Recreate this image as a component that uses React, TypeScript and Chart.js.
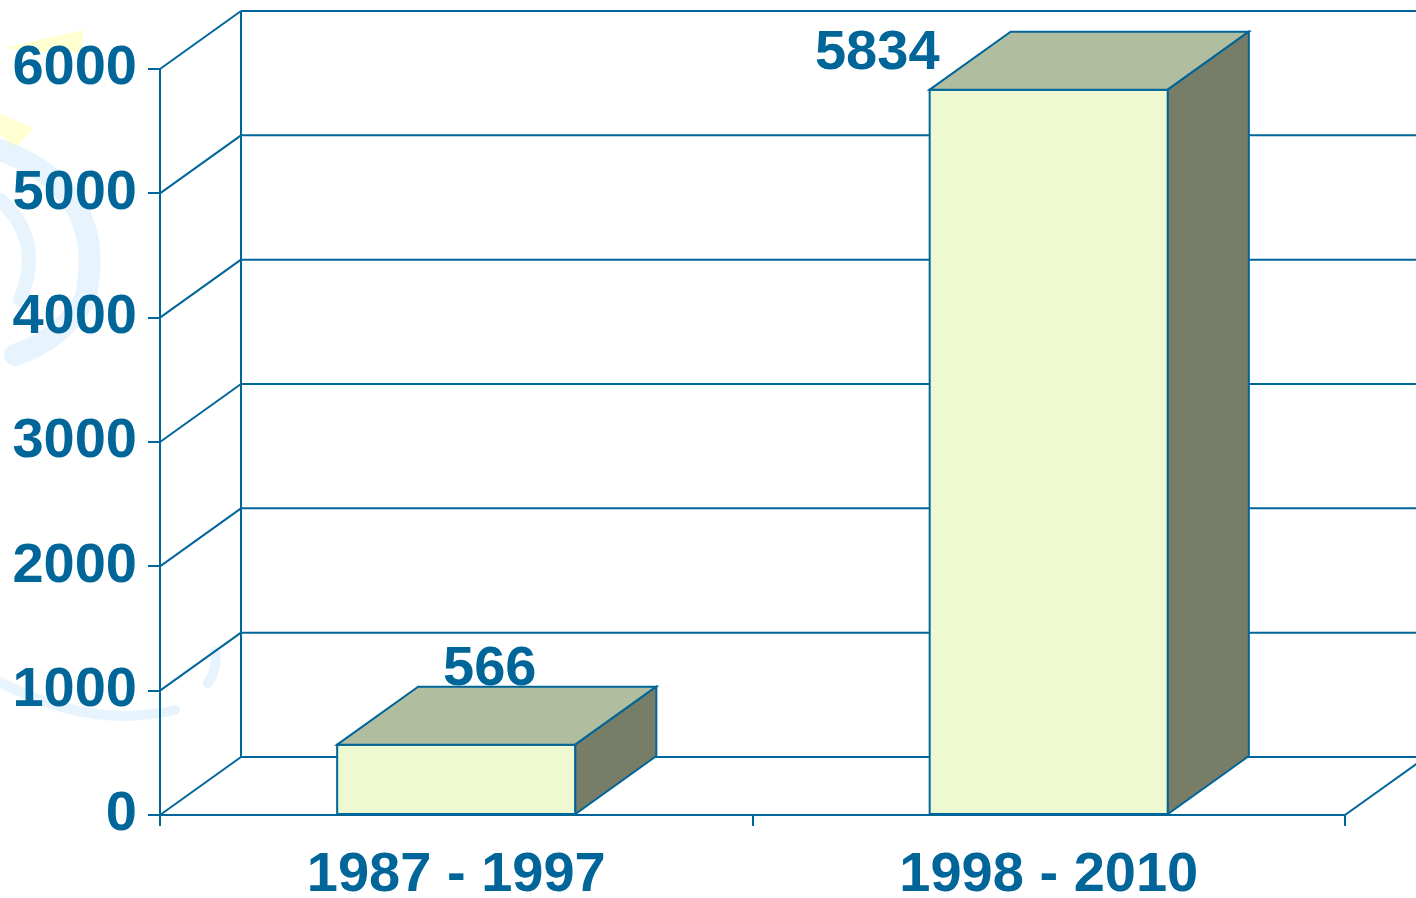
import { useEffect, useRef } from "react";
import { Chart, registerables } from "chart.js";

Chart.register(...registerables);

// ---------- data ----------
const categories = ["1987 - 1997", "1998 - 2010"];
const values = [566, 5834];
const yMin = 0;
const yMax = 6000;
const yStep = 1000;

// ---------- style ----------
const W = 1416;
const H = 898;
const BLUE = "#006699";
const FRONT = "#EEF8D1";
const TOP = "#B1BD9F";
const SIDE = "#787D68";
const DEPTH_X = 81;
const DEPTH_Y = 58;
const LABEL_SHIFT = [
  { dx: -7, dy: -2 },
  { dx: -212, dy: 37 },
];
const FONT_FAMILY = "'Liberation Sans', Arial, Helvetica, sans-serif";
const FONT = { family: FONT_FAMILY, size: 56, weight: "bold" as const };

const line = (ctx: CanvasRenderingContext2D, x1: number, y1: number, x2: number, y2: number) => {
  ctx.beginPath();
  ctx.moveTo(x1, y1);
  ctx.lineTo(x2, y2);
  ctx.stroke();
};

const poly = (ctx: CanvasRenderingContext2D, pts: number[][], fill: string) => {
  ctx.beginPath();
  ctx.moveTo(pts[0][0], pts[0][1]);
  for (let i = 1; i < pts.length; i++) ctx.lineTo(pts[i][0], pts[i][1]);
  ctx.closePath();
  ctx.fillStyle = fill;
  ctx.fill();
  ctx.stroke();
};

const threeD = {
  id: "threeD",
  beforeDraw(chart: any) {
    const ctx: CanvasRenderingContext2D = chart.ctx;
    ctx.save();
    // faint background decoration
    ctx.fillStyle = "#FFFFD2";
    ctx.beginPath();
    ctx.moveTo(3, 48);
    ctx.lineTo(83, 30);
    ctx.lineTo(82, 52);
    ctx.lineTo(40, 52);
    ctx.closePath();
    ctx.fill();
    ctx.beginPath();
    ctx.moveTo(0, 114);
    ctx.lineTo(34, 128);
    ctx.lineTo(15, 148);
    ctx.lineTo(0, 135);
    ctx.closePath();
    ctx.fill();
    ctx.strokeStyle = "rgba(215,236,252,0.6)";
    ctx.lineCap = "round";
    ctx.lineWidth = 22;
    ctx.beginPath();
    ctx.moveTo(0, 150);
    ctx.quadraticCurveTo(110, 190, 85, 300);
    ctx.quadraticCurveTo(60, 340, 15, 355);
    ctx.stroke();
    ctx.lineWidth = 14;
    ctx.beginPath();
    ctx.moveTo(0, 200);
    ctx.quadraticCurveTo(45, 240, 20, 300);
    ctx.stroke();
    ctx.lineWidth = 10;
    ctx.beginPath();
    ctx.moveTo(0, 682);
    ctx.quadraticCurveTo(90, 730, 175, 710);
    ctx.stroke();
    ctx.beginPath();
    ctx.moveTo(208, 683);
    ctx.quadraticCurveTo(218, 668, 215, 652);
    ctx.stroke();
    ctx.restore();
  },
  beforeDatasetsDraw(chart: any) {
    const ctx: CanvasRenderingContext2D = chart.ctx;
    const { left, right, bottom } = chart.chartArea;
    const y = chart.scales.y;
    ctx.save();
    ctx.strokeStyle = BLUE;
    ctx.lineWidth = 2;
    const bx = left + DEPTH_X;
    for (let v = yMin; v <= yMax; v += yStep) {
      const py = y.getPixelForValue(v);
      line(ctx, left, py, bx, py - DEPTH_Y);
      line(ctx, bx, py - DEPTH_Y, W + 20, py - DEPTH_Y);
    }
    line(ctx, bx, y.getPixelForValue(yMax) - DEPTH_Y, bx, bottom - DEPTH_Y);
    line(ctx, right, bottom, right + DEPTH_X, bottom - DEPTH_Y);
    ctx.restore();
  },
  afterDatasetsDraw(chart: any) {
    const ctx: CanvasRenderingContext2D = chart.ctx;
    const meta = chart.getDatasetMeta(0);
    ctx.save();
    ctx.strokeStyle = BLUE;
    ctx.lineWidth = 2;
    ctx.lineJoin = "miter";
    meta.data.forEach((bar: any, i: number) => {
      const { x, y, base, width } = bar.getProps(["x", "y", "base", "width"], true);
      const x1 = x - width / 2;
      const x2 = x + width / 2;
      poly(ctx, [[x1, y], [x2, y], [x2, base], [x1, base]], FRONT);
      poly(ctx, [[x1, y], [x1 + DEPTH_X, y - DEPTH_Y], [x2 + DEPTH_X, y - DEPTH_Y], [x2, y]], TOP);
      poly(ctx, [[x2, y], [x2 + DEPTH_X, y - DEPTH_Y], [x2 + DEPTH_X, base - DEPTH_Y], [x2, base]], SIDE);
      const s = LABEL_SHIFT[i] || { dx: 0, dy: 0 };
      ctx.fillStyle = BLUE;
      ctx.font = `bold ${FONT.size}px ${FONT_FAMILY}`;
      ctx.textAlign = "center";
      ctx.textBaseline = "alphabetic";
      ctx.fillText(String(values[i]), x + DEPTH_X / 2 + s.dx, y - DEPTH_Y + s.dy);
    });
    ctx.restore();
  },
};

export default function App() {
  const ref = useRef<HTMLCanvasElement | null>(null);
  useEffect(() => {
    document.body.style.margin = "0";
    const canvas = ref.current;
    if (!canvas) return;
    const chart = new Chart(canvas, {
      type: "bar",
      data: {
        labels: categories,
        datasets: [
          {
            data: values,
            backgroundColor: "rgba(0,0,0,0)",
            borderWidth: 0,
            categoryPercentage: 1,
            barPercentage: 0.402,
          },
        ],
      },
      options: {
        responsive: false,
        animation: false,
        devicePixelRatio: 1,
        layout: { padding: { top: 69, right: 71, left: 0, bottom: 0 } },
        plugins: { legend: { display: false }, tooltip: { enabled: false } },
        scales: {
          x: {
            grid: { display: true, drawOnChartArea: false, drawTicks: true, tickLength: 11, color: BLUE, lineWidth: 2 },
            border: { display: true, color: BLUE, width: 2 },
            ticks: { color: BLUE, font: FONT, padding: 16, maxRotation: 0 },
            afterFit: (s: any) => {
              s.height = 83;
            },
          },
          y: {
            min: yMin,
            max: yMax,
            grid: { display: true, drawOnChartArea: false, drawTicks: true, tickLength: 12, color: BLUE, lineWidth: 2 },
            border: { display: true, color: BLUE, width: 2 },
            ticks: {
              stepSize: yStep,
              color: BLUE,
              font: FONT,
              padding: 11,
              callback: (v: any) => String(v),
            },
            afterFit: (s: any) => {
              s.width = 160;
            },
          },
        },
      },
      plugins: [threeD],
    });
    return () => chart.destroy();
  }, []);
  return (
    <div style={{ position: "absolute", left: 0, top: 0, width: W, height: H, background: "#fff" }}>
      <canvas ref={ref} width={W} height={H} style={{ display: "block", width: W, height: H }} />
    </div>
  );
}
